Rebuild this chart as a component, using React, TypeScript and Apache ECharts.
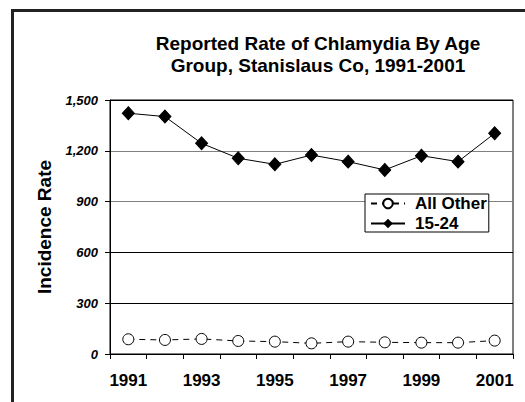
import React, { useEffect, useRef } from "react";
import * as echarts from "echarts";

const years = ["1991", "1992", "1993", "1994", "1995", "1996", "1997", "1998", "1999", "2000", "2001"];
const allOther = [87, 83, 89, 77, 73, 63, 73, 69, 67, 67, 79];
const age1524 = [1422, 1402, 1244, 1156, 1120, 1175, 1136, 1087, 1171, 1136, 1303];
const seriesNames = ["All Other", "15-24"];
const titleLines = ["Reported Rate of Chlamydia By Age", "Group, Stanislaus Co, 1991-2001"];
const yAxisName = "Incidence Rate";
const gridColors = ["#000", "#000", "#000", "#808080", "#808080", "#000"];

const FONT = '"Liberation Sans", Arial, sans-serif';

export default function App() {
  const ref = useRef<HTMLDivElement>(null);
  useEffect(() => {
    if (!ref.current) return;
    const chart = echarts.init(ref.current, undefined, { renderer: "svg" });
    chart.setOption({
      animation: false,
      backgroundColor: "#fff",
      textStyle: { fontFamily: FONT },
      title: {
        text: titleLines.join("\n"),
        left: 318,
        top: 32,
        padding: 0,
        textAlign: "center",
        textStyle: { fontFamily: FONT, fontSize: 19, fontWeight: "bold", color: "#000", lineHeight: 22 },
      },
      graphic: [
        { type: "line", shape: { x1: 11, y1: 10.5, x2: 525, y2: 10.5 }, style: { stroke: "#222", lineWidth: 3 } },
        { type: "line", shape: { x1: 12.5, y1: 9, x2: 12.5, y2: 402 }, style: { stroke: "#222", lineWidth: 3 } },
      ],
      legend: {
        orient: "vertical",
        left: 365,
        top: 194,
        padding: [1, 2, 0, 5],
        itemGap: 3,
        itemWidth: 34,
        itemHeight: 12,
        backgroundColor: "#fff",
        borderColor: "#000",
        borderWidth: 1,
        borderRadius: 0,
        data: seriesNames,
        textStyle: { fontFamily: FONT, fontSize: 17, fontWeight: "bold", color: "#000", padding: [0, 0, 0, 5] },
      },
      grid: {
        left: 110,
        top: 100,
        right: 12,
        bottom: 48,
        show: true,
        borderColor: "#000",
        borderWidth: 1,
      },
      xAxis: {
        type: "category",
        data: years,
        boundaryGap: true,
        axisLine: { lineStyle: { color: "#000", width: 1 } },
        axisTick: { show: true, interval: 0, length: 5, inside: false, lineStyle: { color: "#000" } },
        axisLabel: {
          interval: 1,
          margin: 18,
          fontFamily: FONT,
          fontSize: 17,
          fontWeight: "bold",
          color: "#000",
        },
        splitLine: { show: false },
      },
      yAxis: {
        type: "value",
        min: 0,
        max: 1500,
        interval: 300,
        name: yAxisName,
        nameLocation: "middle",
        nameGap: 56,
        nameTextStyle: { fontFamily: FONT, fontSize: 19, fontWeight: "bold", color: "#000" },
        axisLine: { show: true, lineStyle: { color: "#000", width: 1 } },
        axisTick: { show: true, length: 5, lineStyle: { color: "#000" } },
        axisLabel: {
          margin: 12,
          fontFamily: FONT,
          fontSize: 13,
          fontWeight: "bold",
          fontStyle: "italic",
          color: "#000",
          formatter: (v: number) => v.toLocaleString("en-US"),
        },
        splitLine: { show: true, lineStyle: { color: gridColors, width: 1 } },
      },
      series: [
        {
          name: seriesNames[0],
          type: "line",
          data: allOther,
          symbol: "circle",
          symbolSize: 11,
          itemStyle: { color: "#fff", borderColor: "#000", borderWidth: 1 },
          lineStyle: { color: "#000", width: 1, type: [6, 5] },
          z: 3,
        },
        {
          name: seriesNames[1],
          type: "line",
          data: age1524,
          symbol: "diamond",
          symbolSize: [12, 13],
          itemStyle: { color: "#000", borderColor: "#000" },
          lineStyle: { color: "#000", width: 1 },
          z: 3,
        },
      ],
    });
    return () => chart.dispose();
  }, []);
  return (
    <div
      ref={ref}
      style={{ position: "fixed", left: 0, top: 0, width: 525, height: 402 }}
    />
  );
}
